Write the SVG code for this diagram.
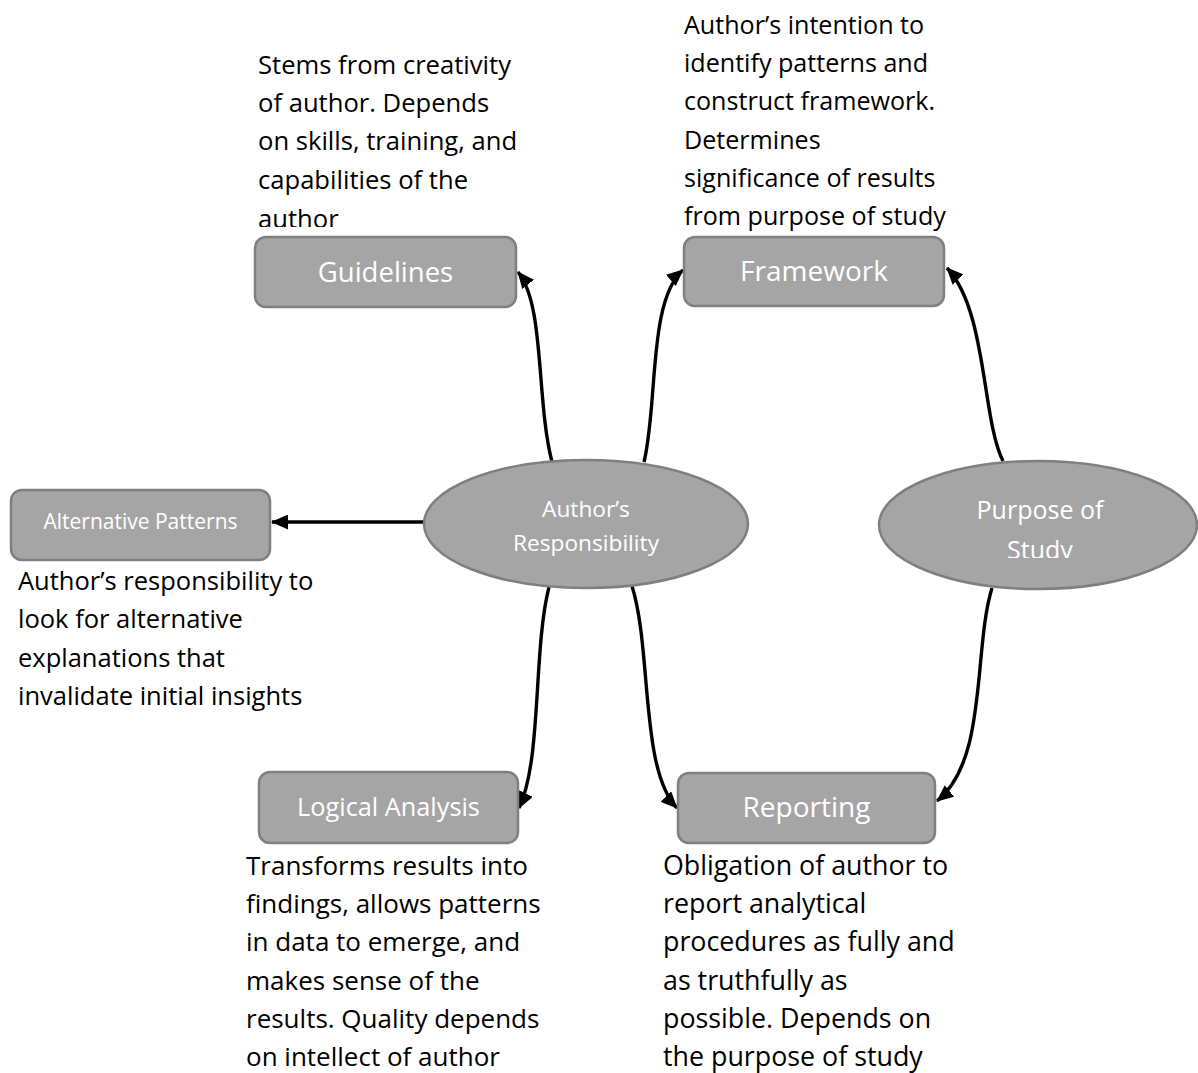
<svg xmlns="http://www.w3.org/2000/svg" width="1198" height="1073" viewBox="0 0 1198 1073">
<style>
.box{fill:#a5a5a5;stroke:#7f7f7f;stroke-width:2.5}
.lbl{fill:#ffffff;font-family:"Open Sans","Noto Sans",sans-serif;text-anchor:middle}
.note{fill:#000000;font-family:"Open Sans","Noto Sans",sans-serif}
.conn{fill:none;stroke:#000000;stroke-width:3.4}
</style>
<defs>
<marker id="ah" markerUnits="userSpaceOnUse" markerWidth="17" markerHeight="15" refX="16" refY="7.5" orient="auto">
<path d="M0,0 L17,7.5 L0,15 z" fill="#000000"/>
</marker>
<clipPath id="clipTL"><rect x="240" y="40" width="300" height="187"/></clipPath>
<clipPath id="clipPS"><rect x="880" y="460" width="318" height="98"/></clipPath>
</defs>
<rect width="1198" height="1073" fill="#ffffff"/>

<g id="connectors">
<path class="conn" marker-end="url(#ah)" d="M552,462 C536,400 545,305 518,272"/>
<path class="conn" marker-end="url(#ah)" d="M644,462 C658,405 648,300 683,270"/>
<path class="conn" marker-end="url(#ah)" d="M1003,461 C982,420 987,310 947,268"/>
<path class="conn" marker-end="url(#ah)" d="M992,588 C973,650 988,760 937,801"/>
<path class="conn" marker-end="url(#ah)" d="M549,587 C533,650 542,760 519,808"/>
<path class="conn" marker-end="url(#ah)" d="M632,586 C652,650 640,770 677,808"/>
<path class="conn" marker-end="url(#ah)" d="M424,522 L272,522"/>
</g>

<g id="guidelines-note">
<text class="note" font-size="25.6" clip-path="url(#clipTL)"><tspan x="258" y="74">Stems from creativity</tspan><tspan x="258" y="112">of author. Depends</tspan><tspan x="258" y="150">on skills, training, and</tspan><tspan x="258" y="189">capabilities of the</tspan><tspan x="258" y="228">author</tspan></text>
</g>
<g id="framework-note">
<text class="note" font-size="25.1"><tspan x="684" y="34">Author’s intention to</tspan><tspan x="684" y="72">identify patterns and</tspan><tspan x="684" y="110">construct framework.</tspan><tspan x="684" y="149">Determines</tspan><tspan x="684" y="187">significance of results</tspan><tspan x="684" y="225">from purpose of study</tspan></text>
</g>

<g id="guidelines">
<rect class="box" x="255" y="237" width="261" height="70" rx="11"/>
<text class="lbl" x="385.5" y="282" font-size="27.5">Guidelines</text>
</g>
<g id="framework">
<rect class="box" x="684" y="237" width="260" height="69" rx="11"/>
<text class="lbl" x="814" y="281" font-size="28">Framework</text>
</g>

<g id="authors-responsibility">
<ellipse class="box" cx="586" cy="524" rx="162" ry="64"/>
<text class="lbl" font-size="22.7"><tspan x="586" y="517">Author’s</tspan><tspan x="586" y="551">Responsibility</tspan></text>
</g>
<g id="purpose-of-study">
<ellipse class="box" cx="1038" cy="525" rx="159" ry="64"/>
<text class="lbl" font-size="25" clip-path="url(#clipPS)"><tspan x="1040" y="519">Purpose of</tspan><tspan x="1040" y="559">Study</tspan></text>
</g>

<g id="alternative-patterns">
<rect class="box" x="11" y="490" width="259" height="70" rx="11"/>
<text class="lbl" x="140.5" y="529" font-size="21">Alternative Patterns</text>
</g>
<g id="alternative-note">
<text class="note" font-size="25.5"><tspan x="18" y="590">Author’s responsibility to</tspan><tspan x="18" y="628">look for alternative</tspan><tspan x="18" y="667">explanations that</tspan><tspan x="18" y="705">invalidate initial insights</tspan></text>
</g>

<g id="logical-analysis">
<rect class="box" x="259" y="772" width="259" height="71" rx="11"/>
<text class="lbl" x="388.5" y="816" font-size="25.3">Logical Analysis</text>
</g>
<g id="logical-note">
<text class="note" font-size="26"><tspan x="246" y="875">Transforms results into</tspan><tspan x="246" y="913">findings, allows patterns</tspan><tspan x="246" y="951">in data to emerge, and</tspan><tspan x="246" y="990">makes sense of the</tspan><tspan x="246" y="1028">results. Quality depends</tspan><tspan x="246" y="1066">on intellect of author</tspan></text>
</g>

<g id="reporting">
<rect class="box" x="678" y="773" width="257" height="70" rx="11"/>
<text class="lbl" x="806.5" y="817" font-size="28">Reporting</text>
</g>
<g id="reporting-note">
<text class="note" font-size="26.8"><tspan x="663" y="875">Obligation of author to</tspan><tspan x="663" y="913">report analytical</tspan><tspan x="663" y="951">procedures as fully and</tspan><tspan x="663" y="990">as truthfully as</tspan><tspan x="663" y="1028">possible. Depends on</tspan><tspan x="663" y="1066">the purpose of study</tspan></text>
</g>
</svg>
